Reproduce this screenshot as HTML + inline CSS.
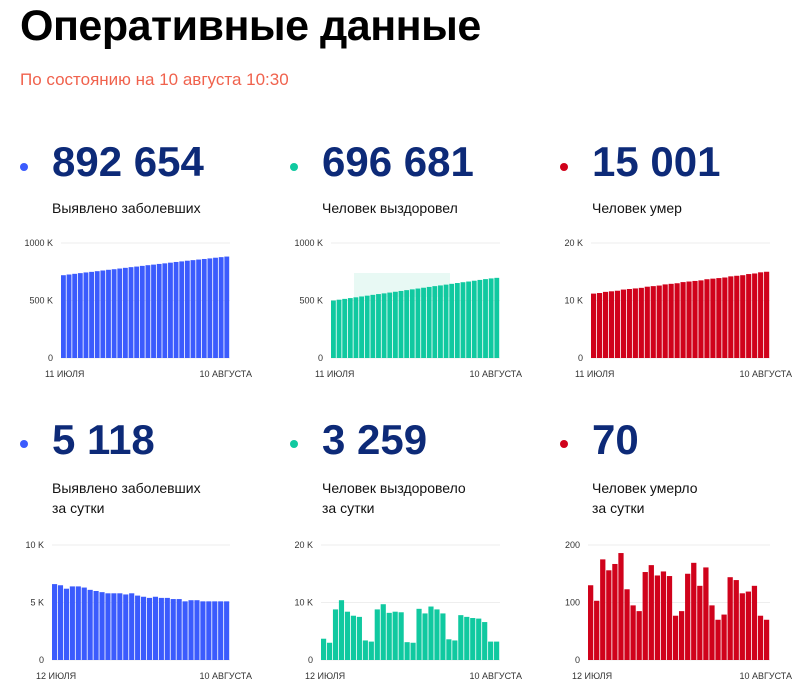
<!DOCTYPE html>
<html><head><meta charset="utf-8"><style>
body{margin:0;width:808px;height:689px;background:#fff;font-family:"Liberation Sans",sans-serif;position:relative;overflow:hidden}
.abs{position:absolute}
h1{position:absolute;left:20px;top:2px;margin:0;font-size:43px;font-weight:bold;color:#000;letter-spacing:-0.5px}
.sub{left:20px;top:70px;font-size:17px;color:#f0624d}
.dot{width:8px;height:8px;border-radius:4px}
.num{font-size:42px;font-weight:bold;color:#0d2a78}
.lbl{font-size:14px;color:#111;line-height:20px}
svg text{font-family:"Liberation Sans",sans-serif;font-size:9px;fill:#333}
</style></head><body>
<h1>Оперативные данные</h1>
<div class="abs sub">По состоянию на 10 августа 10:30</div>

<div class="abs dot" style="left:20px;top:163px;background:#3b5bfd"></div>
<div class="abs num" style="left:52px;top:138px">892 654</div>
<div class="abs lbl" style="left:52px;top:198px">Выявлено заболевших</div>
<div class="abs dot" style="left:290px;top:163px;background:#10c9a0"></div>
<div class="abs num" style="left:322px;top:138px">696 681</div>
<div class="abs lbl" style="left:322px;top:198px">Человек выздоровел</div>
<div class="abs dot" style="left:560px;top:163px;background:#d0021b"></div>
<div class="abs num" style="left:592px;top:138px">15 001</div>
<div class="abs lbl" style="left:592px;top:198px">Человек умер</div>

<div class="abs dot" style="left:20px;top:440px;background:#3b5bfd"></div>
<div class="abs num" style="left:52px;top:416px">5 118</div>
<div class="abs lbl" style="left:52px;top:478px">Выявлено заболевших<br>за сутки</div>
<div class="abs dot" style="left:290px;top:440px;background:#10c9a0"></div>
<div class="abs num" style="left:322px;top:416px">3 259</div>
<div class="abs lbl" style="left:322px;top:478px">Человек выздоровело<br>за сутки</div>
<div class="abs dot" style="left:560px;top:440px;background:#d0021b"></div>
<div class="abs num" style="left:592px;top:416px">70</div>
<div class="abs lbl" style="left:592px;top:478px">Человек умерло<br>за сутки</div>

<svg id="s" width="808" height="689" class="abs" style="left:0;top:0"></svg>
<script>
const casesTotal=[720,726,732,738,744,749,755,761,767,772,778,784,790,795,801,807,812,818,823,829,835,840,846,851,856,861,866,872,877,882];
const recoveredTotal=[500,507,514,521,528,535,542,549,556,562,569,576,583,590,597,604,611,618,625,631,638,645,652,659,665,672,679,686,692,697];
const deathsTotal=[11.2,11.3,11.5,11.6,11.7,11.9,12.0,12.1,12.2,12.4,12.5,12.6,12.8,12.9,13.0,13.2,13.3,13.4,13.5,13.7,13.8,13.9,14.0,14.2,14.3,14.4,14.6,14.7,14.9,15.0];
const casesDaily=[6.6,6.5,6.2,6.4,6.4,6.3,6.1,6.0,5.9,5.8,5.8,5.8,5.7,5.8,5.6,5.5,5.4,5.5,5.4,5.4,5.3,5.3,5.1,5.2,5.2,5.1,5.1,5.1,5.1,5.1];
const recoveredDaily=[3.7,3.0,8.8,10.4,8.4,7.7,7.5,3.4,3.2,8.8,9.7,8.2,8.4,8.3,3.1,3.0,8.9,8.1,9.3,8.8,8.1,3.6,3.4,7.8,7.5,7.3,7.2,6.6,3.2,3.2];
const deathsDaily=[130,103,175,156,167,186,123,95,85,153,165,147,154,146,77,85,150,169,129,161,95,70,79,144,139,116,119,129,77,70];
const ticks1000=["0","500 K","1000 K"], ticks20=["0","10 K","20 K"], ticks10=["0","5 K","10 K"], ticks200=["0","100","200"];
const startTop="11 ИЮЛЯ", startBot="12 ИЮЛЯ", endLbl="10 АВГУСТА";
const svg=document.getElementById('s');
function el(t,a){const e=document.createElementNS('http://www.w3.org/2000/svg',t);for(const k in a)e.setAttribute(k,a[k]);svg.appendChild(e);return e;}
function chart(name,vals,max,ticks,x0,x1,yTop,yBot,color,start,extra){
  const y=v=>yBot-(v/max)*(yBot-yTop);
  ticks.forEach((t,i)=>{const v=max*i/(ticks.length-1);
    const l=el('line',{x1:x0,x2:x1,y1:y(v),y2:y(v),stroke:'#eee'});
    
    const tx=el('text',{x:x0-8,y:y(v)+3,'text-anchor':'end'});tx.textContent=t;
    });
  if(extra){const r=el('rect',extra);}
  const w=(x1-x0)/vals.length;
  vals.forEach((v,i)=>{const b=el('rect',{x:x0+i*w,y:y(v),width:w-0.8,height:yBot-y(v),fill:color});
    });
  const a=el('text',{x:x0-16,y:yBot+19});a.textContent=start;
  const b=el('text',{x:x1+22,y:yBot+19,'text-anchor':'end'});b.textContent=endLbl;
}
chart('cases-total-chart',casesTotal,1000,ticks1000,61,230,243,358,'#3b5bfd',startTop);
chart('recovered-total-chart',recoveredTotal,1000,ticks1000,331,500,243,358,'#10c9a0',startTop,{x:354,y:273,width:96,height:24,fill:'#e8f9f4'});
chart('deaths-total-chart',deathsTotal,20,ticks20,591,770,243,358,'#d0021b',startTop);
chart('cases-daily-chart',casesDaily,10,ticks10,52,230,545,660,'#3b5bfd',startBot);
chart('recovered-daily-chart',recoveredDaily,20,ticks20,321,500,545,660,'#10c9a0',startBot);
chart('deaths-daily-chart',deathsDaily,200,ticks200,588,770,545,660,'#d0021b',startBot);
</script>
</body></html>
